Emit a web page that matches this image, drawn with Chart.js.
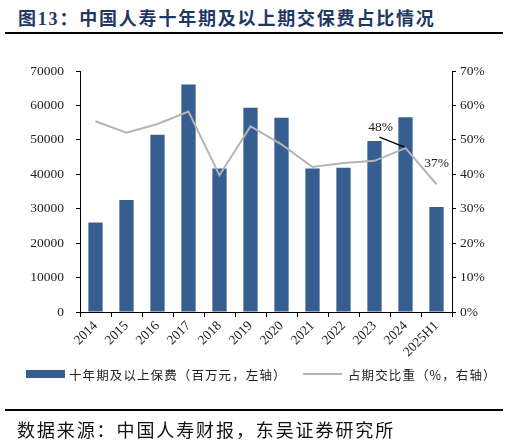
<!DOCTYPE html>
<html>
<head>
<meta charset="utf-8">
<script src="https://cdn.jsdelivr.net/npm/chart.js@4.4.1/dist/chart.umd.min.js"></script>
<style>
  html, body { margin: 0; padding: 0; background: #fff; }
  #wrap { position: relative; width: 509px; height: 445px; overflow: hidden; }
  #c { position: absolute; left: 0; top: 0; }
  .title {
    position: absolute; left: 18px; top: 4px;
    font: bold 18px "Liberation Serif", "Noto Sans CJK SC", serif;
    letter-spacing: 1.8px; color: #1f3864; white-space: nowrap;
  }
  .rule { position: absolute; left: 5px; width: 498px; height: 2px; background: #000; }
  .source {
    position: absolute; left: 17px; top: 416px;
    font: 18px "Noto Sans CJK SC", sans-serif;
    letter-spacing: 1.9px; color: #111; white-space: nowrap;
  }
  #legend { position: absolute; top: 364px; left: 0; width: 509px; height: 20px; }
  .item { position: absolute; top: 0; height: 20px; display: flex; align-items: center; }
  .swatch { width: 39px; margin-right: 4px; }
  .label { font: 12.5px "Noto Sans CJK SC", sans-serif; letter-spacing: 1.1px; color: #222; white-space: nowrap; }
</style>
</head>
<body>
<div id="wrap">
  <div class="title">图13：中国人寿十年期及以上期交保费占比情况</div>
  <div class="rule" style="top:32px"></div>
  <canvas id="c" width="509" height="445"></canvas>
  <div id="legend"></div>
  <div class="rule" style="top:409px"></div>
  <div class="source">数据来源：中国人寿财报，东吴证券研究所</div>
</div>
<script>
// data
const categories = ['2014', '2015', '2016', '2017', '2018', '2019', '2020', '2021', '2022', '2023', '2024', '2025H1'];
const premiums = [26000, 32500, 51500, 66100, 41700, 59300, 56400, 41700, 41900, 49700, 56600, 30500];
const shares = [55.4, 52.1, 54.6, 58.2, 39.7, 53.9, 48.7, 42.1, 43.3, 43.9, 47.6, 37.1];
const labelledPoints = [10, 11];
const leftMax = 70000, leftStep = 10000;
const rightMax = 70, rightStep = 10;

const barColor = '#375e91';
const lineColor = '#b4b4b4';
const tickFont = { family: '"Liberation Serif", serif', size: 13.5 };

// "48%" sits up-left with a leader line, "37%" straight above
const labelPlace = {
  10: { dx: -25, dy: -21, leader: [-26, -11, -1, -1] },
  11: { dx: 0, dy: -21 }
};

const pointLabels = {
  id: 'pointLabels',
  afterDatasetsDraw(chart) {
    const meta = chart.getDatasetMeta(1);
    const ctx = chart.ctx;
    ctx.save();
    ctx.font = '13.5px "Liberation Serif", serif';
    ctx.fillStyle = '#222';
    ctx.textAlign = 'center';
    ctx.textBaseline = 'middle';
    labelledPoints.forEach(i => {
      const p = meta.data[i];
      const pl = labelPlace[i];
      ctx.fillText(Math.round(shares[i]) + '%', p.x + pl.dx, p.y + pl.dy);
      if (pl.leader) {
        ctx.strokeStyle = '#000';
        ctx.lineWidth = 1.3;
        ctx.beginPath();
        ctx.moveTo(p.x + pl.leader[0], p.y + pl.leader[1]);
        ctx.lineTo(p.x + pl.leader[2], p.y + pl.leader[3]);
        ctx.stroke();
      }
    });
    ctx.restore();
  }
};

const axisGrid = { drawOnChartArea: false, drawTicks: true, tickLength: 4, color: '#000', lineWidth: 1 };

const chart = new Chart(document.getElementById('c'), {
  data: {
    labels: categories,
    datasets: [
      {
        type: 'bar',
        label: '十年期及以上保费（百万元，左轴）',
        data: premiums,
        backgroundColor: barColor,
        yAxisID: 'y',
        categoryPercentage: 1,
        barPercentage: 0.46,
        order: 1
      },
      {
        type: 'line',
        label: '占期交比重（%，右轴）',
        data: shares,
        borderColor: lineColor,
        borderWidth: 2,
        pointRadius: 0,
        tension: 0,
        yAxisID: 'y1',
        order: 0
      }
    ]
  },
  options: {
    responsive: false,
    animation: false,
    devicePixelRatio: 1,
    layout: { padding: { top: 71, left: 0, right: 0, bottom: 0 } },
    plugins: { legend: { display: false }, tooltip: { enabled: false } },
    scales: {
      x: {
        grid: { offset: true, drawOnChartArea: false, drawTicks: true, tickLength: 5, color: '#000' },
        border: { display: true, color: '#000', width: 1 },
        ticks: { minRotation: 45, maxRotation: 45, color: '#222', font: tickFont, padding: 1 },
        afterFit: s => { s.height = 133; }
      },
      y: {
        position: 'left',
        min: 0, max: leftMax,
        grid: axisGrid,
        border: { display: true, color: '#000', width: 1 },
        ticks: { stepSize: leftStep, color: '#222', font: tickFont, padding: 12, callback: v => String(v) },
        afterFit: s => { s.width = 80; }
      },
      y1: {
        position: 'right',
        min: 0, max: rightMax,
        grid: axisGrid,
        border: { display: true, color: '#000', width: 1 },
        ticks: { stepSize: rightStep, color: '#222', font: tickFont, padding: 4, callback: v => v + '%' },
        afterFit: s => { s.width = 57; }
      }
    }
  },
  plugins: [pointLabels]
});

// legend built from the datasets
const legendPos = [26, 303];
const legend = document.getElementById('legend');
chart.data.datasets.forEach((ds, i) => {
  const item = document.createElement('div');
  item.className = 'item';
  item.style.left = legendPos[i] + 'px';
  const sw = document.createElement('div');
  sw.className = 'swatch';
  if (ds.type === 'bar') {
    sw.style.height = '8px';
    sw.style.background = ds.backgroundColor;
  } else {
    sw.style.height = '2px';
    sw.style.background = ds.borderColor;
    sw.style.marginRight = '6px';
  }
  const tx = document.createElement('span');
  tx.className = 'label';
  tx.textContent = ds.label;
  item.appendChild(sw);
  item.appendChild(tx);
  legend.appendChild(item);
});
</script>
</body>
</html>
